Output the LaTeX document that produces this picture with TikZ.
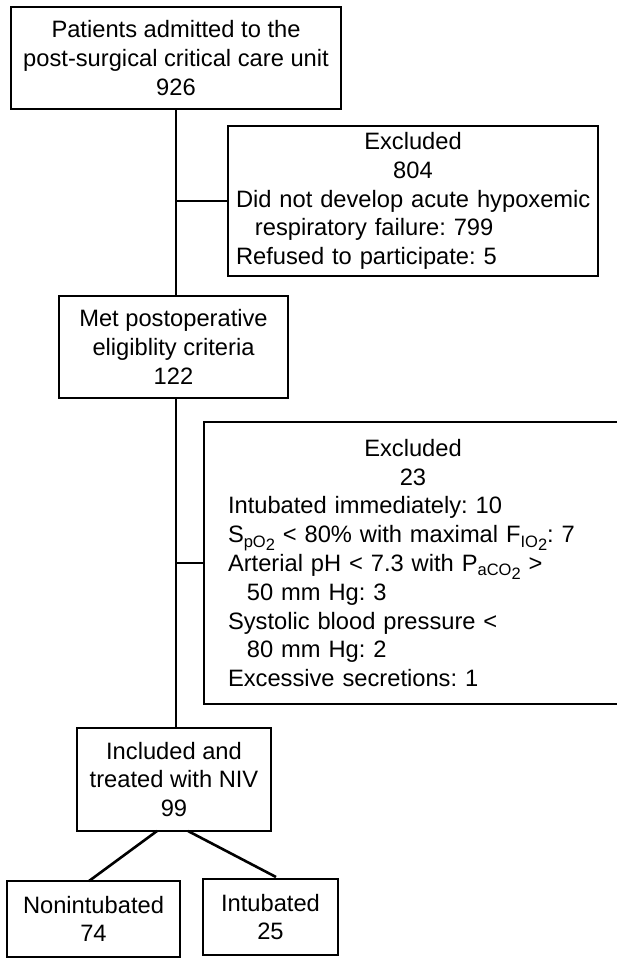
\documentclass[tikz,border=0pt]{standalone}
\usepackage{fontspec}
\setmainfont{Liberation Sans}
\usepackage{tikz}
\usetikzlibrary{calc,positioning}
\frenchspacing
\hyphenpenalty=10000
\tikzstyle{box}=[draw, line width=2.6pt, outer sep=0pt, align=center, font=\fontsize{23.7}{28.8}\selectfont]
\tikzstyle{listbox}=[box, align=left]
\tikzstyle{link}=[line width=2.6pt]
\newcommand{\subtxt}[2]{\raisebox{-0.35ex}{\fontsize{16.5}{16.5}\selectfont #1\raisebox{-0.45ex}{#2}}}

\begin{document}
\begin{tikzpicture}[x=1pt, y=-1pt]
  \useasboundingbox (0,0) rectangle (616,958);

  % main flow
  \node[box, minimum width=330pt, minimum height=102pt] (admitted) at (176,58) {Patients admitted to the\\post-surgical critical care unit\\926};
  \node[box, minimum width=229pt, minimum height=102pt] (eligible) at (173.5,347) {Met postoperative\\eligiblity criteria\\122};
  \node[box, minimum width=194pt, minimum height=103pt] (included) at (174,779.5) {Included and\\treated with NIV\\99};
  \node[box, minimum width=173pt, minimum height=76pt] (nonint) at (93.5,919) {Nonintubated\\74};
  \node[box, minimum width=135pt, minimum height=76pt] (intub) at (270.5,917) {Intubated\\25};

  % exclusions
  \node[listbox, minimum height=150pt, text width=354pt, inner xsep=8pt] (excl1) at (413,201) {%
    \makebox[\linewidth]{Excluded}\\
    \makebox[\linewidth]{804}\\
    \mbox{Did not develop acute hypoxemic}\\
    \hspace*{0.8em}respiratory failure: 799\\
    Refused to participate: 5};
  \node[listbox, minimum height=282pt, text width=370pt, inner xsep=24pt] (excl2) at (413,563) {%
    \makebox[\linewidth]{Excluded}\\
    \makebox[\linewidth]{23}\\
    Intubated immediately: 10\\
    S\subtxt{pO}{2} < 80\% with maximal F\subtxt{IO}{2}: 7\\
    Arterial pH < 7.3 with P\subtxt{aCO}{2} >\\
    \hspace*{0.8em}50 mm Hg: 3\\
    Systolic blood pressure <\\
    \hspace*{0.8em}80 mm Hg: 2\\
    Excessive secretions: 1};

  \draw[link] (admitted.south) -- (admitted.south |- eligible.north);
  \draw[link] (admitted.south |- eligible.south) -- (admitted.south |- included.north);
  \draw[link] (admitted.south |- excl1.west) -- (excl1.west);
  \draw[link] (admitted.south |- excl2.west) -- (excl2.west);
  % split
  \draw[link] ($(included.south)+(-17,0)$) -- ($(nonint.north)+(-4.5,0)$);
  \draw[link] ($(included.south)+(14,0)$) -- ($(intub.north)+(5.5,-2)$);
\end{tikzpicture}
\end{document}
